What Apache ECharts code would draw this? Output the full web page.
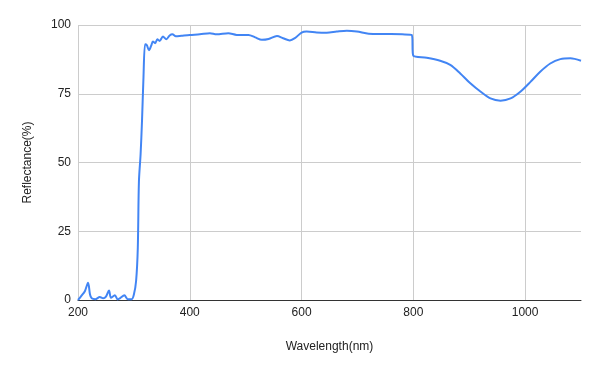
<!DOCTYPE html>
<html>
<head>
<meta charset="utf-8">
<script src="https://cdn.jsdelivr.net/npm/echarts@6/dist/echarts.min.js"></script>
<style>html,body{margin:0;padding:0;background:#fff}#c{width:600px;height:371px}</style>
</head>
<body>
<div id="c"></div>
<script>
var wavelength = [200,206,212.5,218,221.5,224.5,231,239,245,250,255.5,259,266,271,275,283,289,296,300,304,307,309,312,314.5,317,320,323,327,331,334,338,342,346,352,358,364,369,375,385,400,418,436,448,469,484,505,517,529,541,556,567,579,588,600,609,627,645,663,681,699,720,740,760,780,797,800,824,848,866,884,902,920,938,956,974,992,1010,1027,1045,1063,1081,1100];
var reflectance = [0,1.5,3.3,6.3,2,0.6,0.3,1.1,0.6,1.2,3.5,0.8,1.7,0.2,0.6,1.7,0.3,0.3,2,7,19,43,53,65,80,93,92.7,90.8,92.5,94,93.4,94.8,94.2,95.8,94.8,96.2,96.6,95.9,96.1,96.4,96.6,97,96.6,97,96.4,96.4,95.5,94.6,94.9,96,95.2,94.4,95.2,97.2,97.6,97.3,97.2,97.6,97.9,97.6,96.8,96.7,96.7,96.6,96.4,88.8,88.1,87,85.5,82.4,78.8,75.8,73.3,72.5,73.3,75.8,79.4,83,86,87.6,87.9,87];
var xTicks = {min: 200, max: 1100, interval: 200};
var yTicks = {min: 0, max: 100, interval: 25};

var data = wavelength.map(function (w, i) { return [w, reflectance[i]]; });
var font = '"Liberation Sans", Arial, sans-serif';
var chart = echarts.init(document.getElementById('c'), null, {renderer: 'canvas'});
chart.setOption({
  animation: false,
  grid: {left: 78, right: 19, top: 25, bottom: 71, containLabel: false},
  xAxis: {
    type: 'value', min: xTicks.min, max: xTicks.max, interval: xTicks.interval,
    name: 'Wavelength(nm)', nameLocation: 'middle', nameGap: 41,
    nameTextStyle: {color: '#222', fontFamily: font, fontSize: 12},
    axisLine: {show: true, lineStyle: {color: '#333', width: 1}},
    axisTick: {show: false},
    axisLabel: {color: '#222', fontFamily: font, fontSize: 12, margin: 7, showMaxLabel: false,
      formatter: function (v) { return String(v); }},
    splitLine: {show: true, showMinLine: true, showMaxLine: false, lineStyle: {color: '#ccc', width: 1}}
  },
  yAxis: {
    type: 'value', min: yTicks.min, max: yTicks.max, interval: yTicks.interval,
    name: 'Reflectance(%)', nameLocation: 'middle', nameGap: 44, nameRotate: 90,
    nameTextStyle: {color: '#222', fontFamily: font, fontSize: 12},
    axisLine: {show: false},
    axisTick: {show: false},
    axisLabel: {color: '#222', fontFamily: font, fontSize: 12, margin: 7},
    splitLine: {show: true, lineStyle: {color: '#ccc', width: 1}}
  },
  series: [{
    type: 'line', data: data, showSymbol: false, symbol: 'none',
    smooth: 0.3,
    lineStyle: {color: '#4285F4', width: 2}
  }]
});
</script>
</body>
</html>
